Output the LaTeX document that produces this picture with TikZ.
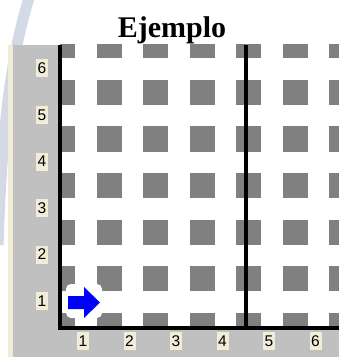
\documentclass[tikz,border=0pt]{standalone}
\usepackage{fontspec}
\setmainfont{Liberation Serif}
\newfontfamily\labfont{Liberation Sans}
\usetikzlibrary{calc}

\definecolor{panelgray}{HTML}{C0C0C0}
\definecolor{squaregray}{HTML}{808080}
\definecolor{labcream}{HTML}{F1EDD9}
\definecolor{arcblue}{HTML}{D3DAE5}

\tikzset{
  sq/.style={fill=squaregray, draw=none},
  axisline/.style={line width=3.5pt, black},
  lab/.style={fill=labcream, inner sep=0pt, minimum width=12pt, minimum height=18pt,
    font=\labfont\fontsize{15.5}{15.5}\selectfont},
}

\begin{document}
\begin{tikzpicture}[x=1pt, y=-1pt]
  \useasboundingbox (0,0) rectangle (339,358);
  % Coordinates
  \coordinate (O) at (60,328);
  \coordinate (T) at (60,45);
  \coordinate (R) at (339,328);
  \coordinate (M) at (246,45);
  \coordinate (N) at (246,328);

  % Background
  \begin{scope}
    \clip (0,0) rectangle (339,358);
    \draw[arcblue, line width=11pt] (29,-2) .. controls (10,60) and (2,130) .. (-2,245);
  \end{scope}
  \fill[panelgray] (13,45) rectangle (59,357);
  \fill[panelgray] (13,329) rectangle (339,357);
  \fill[labcream] (8,45) rectangle (13,357);

  % Squares
  \begin{scope}
    \clip (O) rectangle (339,45);
    \foreach \i in {0,...,6}
      \foreach \j in {0,...,6}
        \fill[sq] ($(62.5+46.5*\i,325-46.5*\j)+(-12.5,-12.5)$) rectangle +(25,25);
  \end{scope}

  % Arrow
  \fill[white, rounded corners=5pt] (66,284) rectangle (102,318);
  \fill[blue] (68,296) -- (84,296) -- (84,287) -- (100,302.5) -- (84,318)
    -- (84,309) -- (68,309) -- cycle;

  % Drawing
  \draw[axisline] (T) -- (O) -- (R);
  \draw[axisline] (M) -- (N);

  % Labels
  \foreach \k in {1,...,6} {
    \node[lab] (x\k) at (83+46.5*\k-46.5,341) {\k};
    \node[lab] (y\k) at (42,301-46.5*\k+46.5) {\k};
  }
  \node[anchor=base, font=\bfseries\fontsize{30}{30}\selectfont, inner sep=0pt]
    (title) at (172,38) {Ejemplo};
\end{tikzpicture}
\end{document}
